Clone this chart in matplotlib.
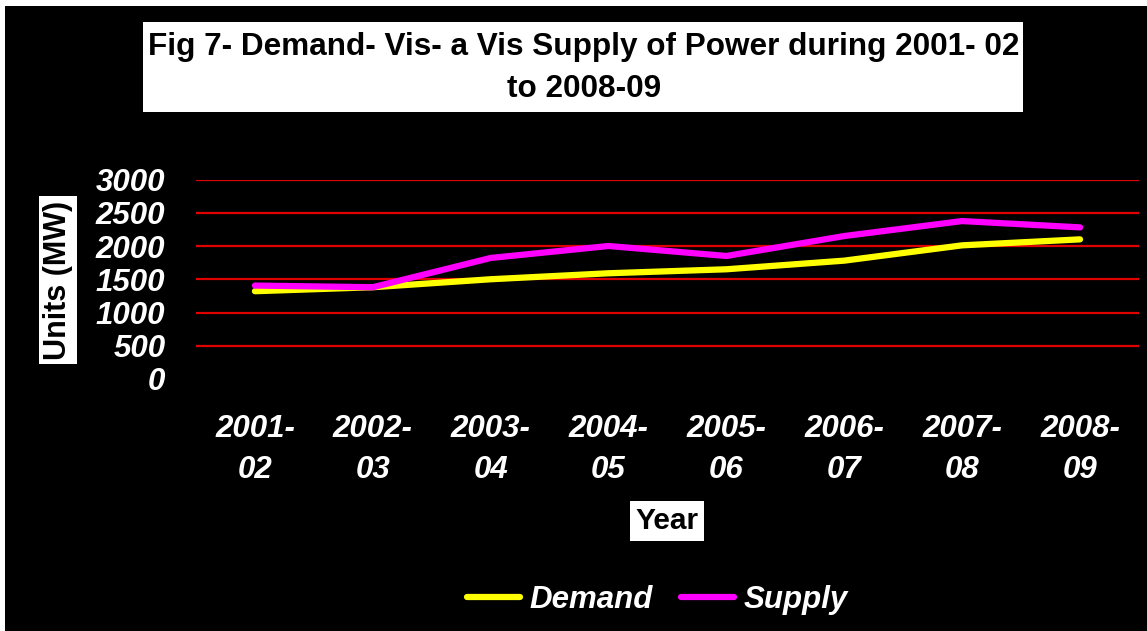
import matplotlib
matplotlib.use("Agg")
import matplotlib.pyplot as plt
from matplotlib.patches import Rectangle

years = ["2001-\n02", "2002-\n03", "2003-\n04", "2004-\n05", "2005-\n06", "2006-\n07", "2007-\n08", "2008-\n09"]
demand = [1320, 1380, 1500, 1590, 1650, 1780, 2010, 2100]
supply = [1405, 1380, 1820, 2000, 1850, 2150, 2375, 2280]
yticks = [0, 500, 1000, 1500, 2000, 2500, 3000]

W, H = 1147, 631
fig = plt.figure(figsize=(W / 100, H / 100), dpi=100, facecolor="white")
fig.patches.append(Rectangle((5 / W, 0), 1, 1 - 6 / H, transform=fig.transFigure,
                             facecolor="black", edgecolor="none", zorder=-5))

FONT = ["Liberation Sans", "DejaVu Sans"]

ax = fig.add_axes([196 / W, 1 - 379 / H, 943 / W, 199.5 / H])
ax.set_facecolor("black")
x = list(range(len(years)))
ax.plot(x, demand, color="#FFFF00", lw=4.5, solid_capstyle="round", solid_joinstyle="round", label="Demand", zorder=3)
ax.plot(x, supply, color="#FF00FF", lw=4.5, solid_capstyle="round", solid_joinstyle="round", label="Supply", zorder=3)

ax.set_xlim(-0.5, len(years) - 0.5)
ax.set_ylim(0, 3000)
ax.set_yticks(yticks)
ax.set_xticks(x)
ax.set_xticklabels(years, linespacing=1.5)
for sp in ax.spines.values():
    sp.set_visible(False)
ax.tick_params(axis="both", length=0, colors="white")
ax.tick_params(axis="y", pad=22)
ax.tick_params(axis="x", pad=25)
for lab in ax.get_xticklabels() + ax.get_yticklabels():
    lab.set_fontfamily(FONT)
    lab.set_fontsize(22.5)
    lab.set_fontweight("bold")
    lab.set_fontstyle("italic")
    lab.set_color("white")

ax.yaxis.grid(True, color="#E00000", lw=1.6)
ax.set_axisbelow(True)
for t, gl in zip(ax.get_yticks(), ax.yaxis.get_gridlines()):
    if t == 0:
        gl.set_visible(False)

# title box
fig.patches.append(Rectangle((143 / W, 1 - 112 / H), 880 / W, 90 / H, transform=fig.transFigure,
                             facecolor="white", edgecolor="none", zorder=1))
fig.text(584 / W, 1 - 68 / H, "Fig 7- Demand- Vis- a Vis Supply of Power during 2001- 02\nto 2008-09",
         ha="center", va="center", fontsize=22.7, fontweight="bold", family=FONT, color="black",
         linespacing=1.55, zorder=2)

fig.text(58 / W, 1 - 280 / H, "Units (MW)", rotation=90, ha="center", va="center",
         fontsize=22, fontweight="bold", family=FONT, color="black",
         bbox=dict(facecolor="white", edgecolor="none", pad=3))
fig.text(667 / W, 1 - 521 / H, "Year", ha="center", va="center",
         fontsize=21.5, fontweight="bold", family=FONT, color="black",
         bbox=dict(facecolor="white", edgecolor="none", pad=4))

leg = fig.legend(loc="center", bbox_to_anchor=(657 / W, 1 - 600 / H), ncol=2, frameon=False,
                 handlelength=1.7, handletextpad=0.3, columnspacing=0.9,
                 prop=dict(family=FONT, size=22.5, weight="bold", style="italic"))
for t in leg.get_texts():
    t.set_color("white")

fig.savefig("out.png", dpi=100, facecolor=fig.get_facecolor())
